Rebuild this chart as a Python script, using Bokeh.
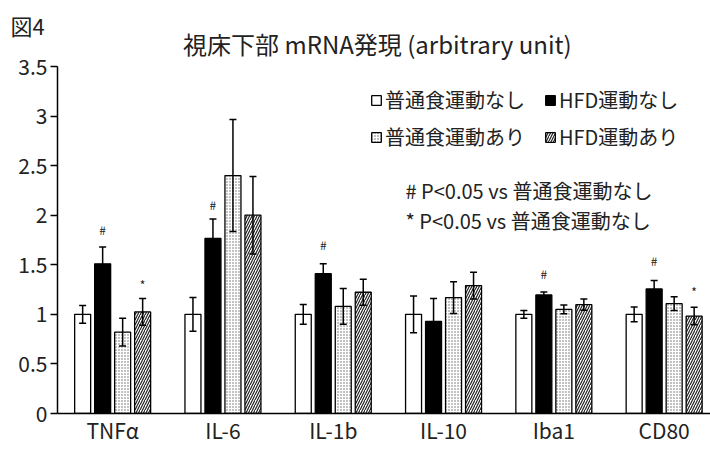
from bokeh.plotting import figure
from bokeh.models import (Range1d, Whisker, TeeHead, ColumnDataSource, Label,
                          Legend, LegendItem, FixedTicker)
from bokeh.core.properties import value
from bokeh.embed import file_html
from bokeh.resources import INLINE

# ---- data ----
categories = ["TNF\u03b1", "IL-6", "IL-1b", "IL-10", "Iba1", "CD80"]
series_names = ["普通食運動なし", "HFD運動なし", "普通食運動あり", "HFD運動あり"]

normal_sed = [1.0, 1.0, 1.0, 1.0, 1.0, 1.0]
normal_sed_err = [0.09, 0.17, 0.10, 0.186, 0.04, 0.075]
hfd_sed = [1.51, 1.766, 1.41, 0.93, 1.196, 1.257]
hfd_sed_err = [0.17, 0.195, 0.10, 0.23, 0.03, 0.085]
normal_ex = [0.82, 2.40, 1.08, 1.169, 1.05, 1.108]
normal_ex_err = [0.14, 0.565, 0.18, 0.16, 0.045, 0.07]
hfd_ex = [1.025, 2.0, 1.223, 1.29, 1.098, 0.983]
hfd_ex_err = [0.135, 0.39, 0.13, 0.135, 0.057, 0.088]

# significance marks: (category index, series index, symbol, y)
sig_cat = [0, 0, 1, 2, 4, 5, 5]
sig_series = [1, 3, 1, 1, 1, 1, 3]
sig_text = ["#", "*", "#", "#", "#", "#", "*"]
sig_y = [1.86, 1.30, 2.11, 1.70, 1.415, 1.54, 1.23]

y_ticks = [0, 0.5, 1, 1.5, 2, 2.5, 3, 3.5]
y_tick_labels = ["0", "0.5", "1", "1.5", "2", "2.5", "3", "3.5"]
y_max = 3.5

title_text = "視床下部 mRNA発現 (arbitrary unit)"
fig_label = "図4"
note_lines = ["# P<0.05 vs 普通食運動なし", "* P<0.05 vs 普通食運動なし"]

# ---- styling ----
FONT = "Noto Sans CJK JP, sans-serif"
TXT = "#222222"
bar_w = 0.145
step = 0.1813
px_per_unit = 99.14
frame_h = 383
frame_w = 653
top_extra = (frame_h - y_max * px_per_unit) / px_per_unit

p = figure(frame_width=frame_w, frame_height=frame_h, output_backend="svg",
           toolbar_location=None,
           x_range=Range1d(0, frame_w / 110.3),
           y_range=Range1d(0, y_max + top_extra),
           min_border_left=57, min_border_right=0, min_border_top=30,
           min_border_bottom=0)
p.outline_line_color = None
p.xgrid.visible = False
p.ygrid.visible = False
p.background_fill_color = "white"

# figure label as the plot title (top-left)
p.title.text = fig_label
p.title.align = "left"
p.title.offset = -47
p.title.standoff = -21
p.title.text_font = FONT
p.title.text_font_size = "22px"
p.title.text_font_style = "normal"
p.title.text_color = TXT

# chart title inside the (extended) frame
p.add_layout(Label(x=2.90, y=y_max + 0.232, text=title_text,
                   text_align="center", text_baseline="middle",
                   text_font=FONT, text_font_size="24px", text_color=TXT))

values = [normal_sed, hfd_sed, normal_ex, hfd_ex]
errors = [normal_sed_err, hfd_sed_err, normal_ex_err, hfd_ex_err]
styles = [
    dict(fill_color="white"),
    dict(fill_color="black"),
    dict(fill_color="white", hatch_pattern="dot", hatch_color="#666666",
         hatch_scale=3, hatch_weight=1),
    dict(fill_color="white", hatch_pattern="right_diagonal_line",
         hatch_color="#222222", hatch_scale=5, hatch_weight=1.2),
]

renderers = []
for j in range(4):
    xs = [i + 0.5 + (j - 1.5) * step for i in range(len(categories))]
    src = ColumnDataSource(dict(
        x=xs, top=values[j],
        upper=[v + e for v, e in zip(values[j], errors[j])],
        lower=[v - e for v, e in zip(values[j], errors[j])]))
    r = p.vbar(x="x", top="top", bottom=0, width=bar_w, source=src,
               line_color="black", line_width=1.3, **styles[j])
    renderers.append(r)
    w = Whisker(base="x", upper="upper", lower="lower", source=src,
                dimension="height", line_color="black", line_width=1.5,
                upper_head=TeeHead(size=7, line_width=1.5, line_color="black"),
                lower_head=TeeHead(size=7, line_width=1.5, line_color="black"),
                level="overlay")
    p.add_layout(w)

# significance markers
sig_src = ColumnDataSource(dict(
    x=[c + 0.5 + (s - 1.5) * step for c, s in zip(sig_cat, sig_series)],
    y=sig_y, t=sig_text))
p.text(x="x", y="y", text="t", source=sig_src, text_align="center",
       text_baseline="middle", text_font=value("Noto Sans CJK JP"),
       text_font_size="12px", text_color=TXT)

# axes
p.yaxis.bounds = (0, y_max)
p.yaxis.ticker = FixedTicker(ticks=y_ticks)
p.yaxis.major_label_overrides = {t: l for t, l in zip(y_ticks, y_tick_labels)}
p.yaxis.minor_tick_line_color = None
p.yaxis.major_tick_out = 7
p.yaxis.major_tick_in = 0
p.yaxis.major_label_standoff = 3
p.yaxis.axis_line_color = "black"
p.yaxis.axis_line_width = 1.5
p.yaxis.major_tick_line_width = 1.5
p.yaxis.major_label_text_font = FONT
p.yaxis.major_label_text_font_size = "21px"
p.yaxis.major_label_text_color = TXT

cat_pos = [i + 0.5 for i in range(len(categories))]
p.xaxis.ticker = FixedTicker(ticks=cat_pos)
p.xaxis.major_label_overrides = {t: l for t, l in zip(cat_pos, categories)}
p.xaxis.major_tick_line_color = None
p.xaxis.major_tick_out = 0
p.xaxis.major_tick_in = 0
p.xaxis.minor_tick_line_color = None
p.xaxis.major_label_standoff = 1
p.xaxis.axis_line_color = "black"
p.xaxis.axis_line_width = 1.3
p.xaxis.major_label_text_font = FONT
p.xaxis.major_label_text_font_size = "21px"
p.xaxis.major_label_text_color = TXT

# notes
for k, line in enumerate(note_lines):
    p.add_layout(Label(x=3.155, y=2.25 - 0.30 * k, text=line,
                       text_align="left", text_baseline="middle",
                       text_font=FONT, text_font_size="20px",
                       text_color=TXT))

# legends (two rows of two)
for row in range(2):
    items = [LegendItem(label=series_names[row * 2 + c],
                        renderers=[renderers[row * 2 + c]]) for c in range(2)]
    lg = Legend(items=items, orientation="horizontal",
                location=(313, 299 - 37 * row),
                padding=0, margin=0, spacing=19, label_standoff=3,
                glyph_width=12, glyph_height=12, label_height=20,
                label_text_font=FONT, label_text_font_size="20px",
                label_text_color=TXT,
                background_fill_alpha=0, border_line_color=None)
    p.add_layout(lg, "center")

open("out.html", "w").write(file_html(p, INLINE))
